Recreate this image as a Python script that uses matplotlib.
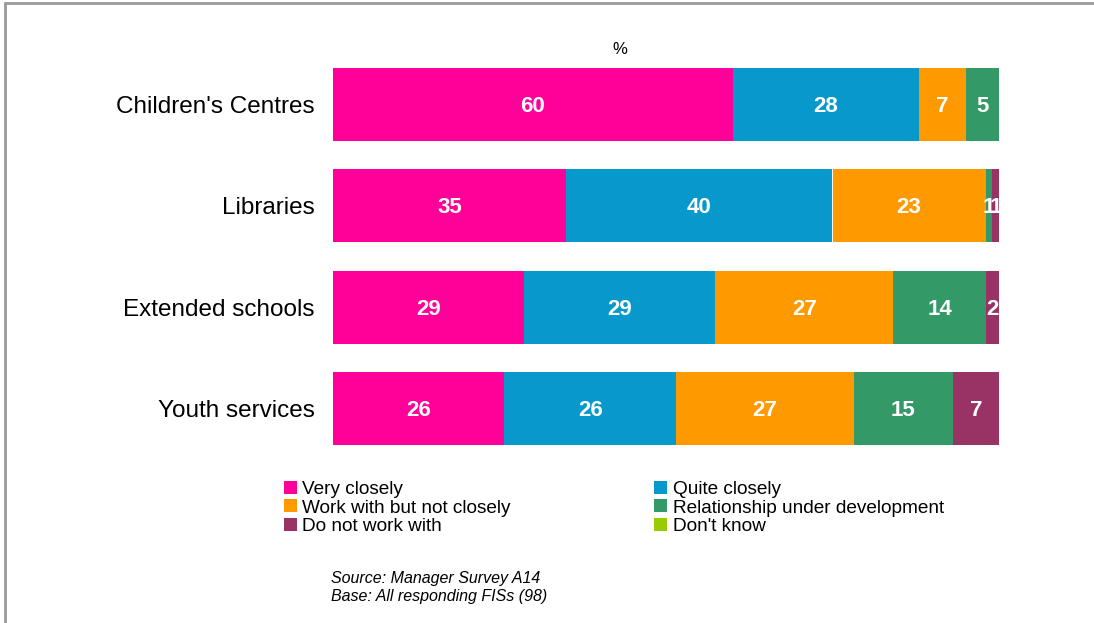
import matplotlib.pyplot as plt
from matplotlib.patches import Patch, Rectangle
import numpy as np

plt.rcParams['font.family'] = ['Liberation Sans', 'DejaVu Sans']

services = ["Children's Centres", "Libraries", "Extended schools", "Youth services"]
series = ["Very closely", "Quite closely", "Work with but not closely",
          "Relationship under development", "Do not work with", "Don't know"]
very_closely = [60, 35, 29, 26]
quite_closely = [28, 40, 29, 26]
not_closely = [7, 23, 27, 27]
under_development = [5, 1, 14, 15]
do_not_work = [0, 1, 2, 7]
dont_know = [0, 0, 0, 0]
colours = ['#FF0099', '#0799CC', '#FF9900', '#339966', '#993366', '#99CC00']

values = np.array([very_closely, quite_closely, not_closely,
                   under_development, do_not_work, dont_know], dtype=float)
# each bar fills 100% of its row
shares = values / values.sum(axis=0) * 100

W, H = 1094, 623
fig = plt.figure(figsize=(W / 100, H / 100), dpi=100)
ax = fig.add_axes([333 / W, 1 - 459 / H, 666 / W, 405 / H])

y = np.arange(len(services))
left = np.zeros(len(services))
for vals, pct, colour in zip(values, shares, colours):
    ax.barh(y, pct, left=left, height=0.72, color=colour)
    for yi, v, l, p in zip(y, vals, left, pct):
        if v > 0:
            # small nudge down so the digits sit in the middle of the bar
            ax.text(l + p / 2, yi + 0.02, f'{v:.0f}', ha='center', va='center',
                    color='white', fontsize=16, fontweight='bold')
    left += pct

ax.set_xlim(0, 100)
ax.set_ylim(3.5, -0.5)
ax.set_yticks(y)
ax.set_yticklabels(services, fontsize=17.5)
ax.tick_params(axis='y', length=0, pad=13)
ax.set_xticks([])
for s in ax.spines.values():
    s.set_visible(False)

fig.text(620 / W, 1 - 50 / H, '%', ha='center', va='center', fontsize=12)

# frame around the chart area
fig.patches.append(Rectangle((5 / W, -0.01), 1.1, 1 - 3 / H + 0.01,
                             transform=fig.transFigure, fill=False,
                             edgecolor='#999999', linewidth=2))

handles = [Patch(facecolor=c) for c in colours]
order = [0, 2, 4, 1, 3, 5]
fig.legend([handles[i] for i in order], [series[i] for i in order],
           ncol=2, loc='upper left', bbox_to_anchor=(284 / W, 1 - 481 / H),
           frameon=False, fontsize=13.7, handlelength=0.68, handleheight=0.68,
           handletextpad=0.28, labelspacing=0.06, columnspacing=7.55,
           borderaxespad=0, borderpad=0)

fig.text(331 / W, 1 - 579 / H, 'Source: Manager Survey A14',
         fontsize=11.5, style='italic', va='center')
fig.text(331 / W, 1 - 596 / H, 'Base: All responding FISs (98)',
         fontsize=11.5, style='italic', va='center')

fig.savefig('out.png', dpi=100)
